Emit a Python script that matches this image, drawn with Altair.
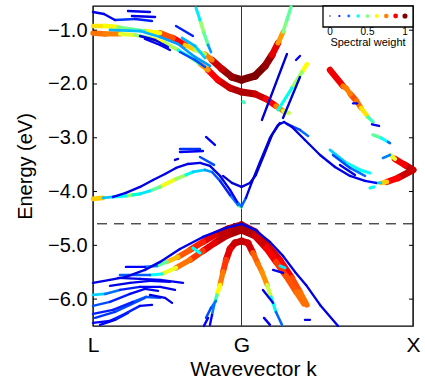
import altair as alt
import pandas as pd

# ---- axes -----------------------------------------------------------------
K_L, K_G, K_X = 0.0, 0.866, 1.866          # path length L -> G -> X (2*pi/a units)
SYM_K = [K_L, K_G, K_X]
SYM_LABELS = ["L", "G", "X"]
E_MIN, E_MAX = -6.5, -0.55
E_TICKS = [-6.0, -5.0, -4.0, -3.0, -2.0, -1.0]
E_REF = -4.6                               # dashed reference energy

# ---- spectral-weight colour key ---------------------------------------------
LEGEND_W = [0.0, 0.125, 0.25, 0.375, 0.5, 0.625, 0.75, 0.875, 1.0]
LEGEND_TICKS = [0.0, 0.5, 1.0]
JET = ["#000080", "#0000ff", "#0080ff", "#00ffff", "#80ff80",
       "#ffff00", "#ff8000", "#ff0000", "#800000"]

# ---- unfolded bands: (k, E [eV], spectral weight) ----------------------------
cb_a = [(0.000, -0.922, 0.60), (0.070, -0.922, 0.70), (0.146, -0.940, 0.55),
        (0.216, -0.977, 0.45), (0.303, -1.015, 0.50), (0.391, -1.052, 0.75),
        (0.466, -1.145, 0.90), (0.536, -1.275, 0.85), (0.595, -1.368, 0.50),
        (0.653, -1.442, 0.60), (0.694, -1.554, 0.90), (0.752, -1.721, 0.95),
        (0.810, -1.870, 1.00), (0.866, -1.925, 1.00), (0.945, -1.851, 1.00),
        (1.003, -1.665, 1.00), (1.044, -1.461, 0.95), (1.079, -1.238, 0.85),
        (1.108, -1.033, 0.60), (1.131, -0.810, 0.40), (1.155, -0.569, 0.55)]
cb_b = [(0.000, -1.052, 0.75), (0.070, -1.070, 0.80), (0.157, -1.070, 0.70),
        (0.245, -1.089, 0.50), (0.332, -1.145, 0.55), (0.420, -1.238, 0.70),
        (0.496, -1.368, 0.40), (0.566, -1.498, 0.35), (0.624, -1.628, 0.60),
        (0.671, -1.740, 0.85), (0.729, -1.925, 0.90), (0.799, -2.074, 0.95),
        (0.866, -2.149, 0.95), (0.945, -2.186, 0.95), (1.009, -2.279, 0.90),
        (1.067, -2.409, 0.85), (1.108, -2.502, 0.65), (1.143, -2.539, 0.50)]
cb_steep = [(0.601, -0.587, 0.25), (0.624, -0.810, 0.45), (0.647, -1.052, 0.60),
            (0.671, -1.275, 0.35), (0.688, -1.405, 0.20)]
ul_1 = [(0.000, -0.662, 0.10), (0.064, -0.699, 0.10), (0.128, -0.810, 0.12)]
ul_2 = [(0.128, -0.810, 0.15), (0.245, -0.792, 0.15), (0.344, -0.829, 0.12)]
ul_3 = [(0.204, -0.643, 0.10), (0.332, -0.662, 0.10)]
ul_4 = [(0.227, -0.736, 0.10), (0.362, -0.754, 0.10)]
ul_5 = [(0.099, -0.996, 0.30), (0.274, -1.015, 0.30), (0.391, -1.126, 0.30),
        (0.496, -1.256, 0.25), (0.595, -1.498, 0.30), (0.682, -1.665, 0.25)]
ul_6 = [(0.274, -1.108, 0.10), (0.362, -1.182, 0.10), (0.437, -1.312, 0.10)]
ul_7 = [(0.303, -1.163, 0.12), (0.391, -1.275, 0.10), (0.449, -1.368, 0.10)]
ul_8 = [(0.484, -0.922, 0.12), (0.583, -1.108, 0.15)]
ul_9 = [(0.507, -1.405, 0.15), (0.595, -1.554, 0.20), (0.653, -1.684, 0.15)]
ul_10 = [(0.519, -1.145, 0.30), (0.595, -1.293, 0.30), (0.653, -1.517, 0.35)]
g_dot = [(0.875, -2.330, 0.45), (0.882, -2.345, 0.45)]
ru_1 = [(0.985, -2.669, 0.08), (1.131, -1.442, 0.08)]
ru_2 = [(1.108, -2.632, 0.08), (1.207, -1.870, 0.08)]
ru_3 = [(1.079, -2.483, 0.35), (1.160, -2.074, 0.45), (1.219, -1.777, 0.60),
        (1.248, -1.628, 0.65)]
ru_4 = [(1.184, -1.554, 0.12), (1.207, -1.479, 0.12)]
rd_1 = [(1.382, -1.740, 0.90), (1.458, -2.037, 0.88), (1.475, -2.074, 0.65),
        (1.501, -2.186, 0.85), (1.536, -2.316, 0.80), (1.563, -2.446, 0.75),
        (1.603, -2.613, 0.55), (1.633, -2.706, 0.35)]
rd_2 = [(1.627, -2.750, 0.12), (1.668, -2.780, 0.12)]
rd_3 = [(1.633, -2.948, 0.50), (1.680, -3.004, 0.45), (1.720, -3.078, 0.30),
        (1.732, -3.100, 0.15)]
rd_4 = [(1.517, -2.360, 0.12), (1.540, -2.360, 0.12)]
rd_5 = [(1.691, -3.375, 0.15), (1.732, -3.320, 0.35), (1.761, -3.394, 0.85),
        (1.819, -3.505, 0.92), (1.866, -3.598, 0.95)]
m_1 = [(0.000, -4.137, 0.85), (0.058, -4.119, 0.50), (0.117, -4.100, 0.12),
       (0.192, -4.026, 0.10), (0.274, -3.914, 0.10), (0.350, -3.784, 0.10),
       (0.420, -3.673, 0.10), (0.484, -3.561, 0.10), (0.554, -3.487, 0.10),
       (0.624, -3.468, 0.10), (0.682, -3.524, 0.10), (0.741, -3.710, 0.10),
       (0.799, -3.970, 0.10), (0.840, -4.193, 0.15), (0.866, -4.277, 0.30),
       (0.892, -4.119, 0.10), (0.927, -3.821, 0.10), (0.974, -3.450, 0.10),
       (1.032, -3.004, 0.10), (1.079, -2.762, 0.10), (1.114, -2.706, 0.10),
       (1.160, -2.799, 0.10), (1.236, -3.041, 0.10), (1.324, -3.320, 0.10),
       (1.411, -3.543, 0.10), (1.499, -3.710, 0.10), (1.586, -3.803, 0.10),
       (1.650, -3.840, 0.15), (1.679, -3.840, 0.50), (1.714, -3.821, 0.85),
       (1.778, -3.747, 0.90), (1.866, -3.598, 0.95)]
m_2 = [(0.117, -4.100, 0.20), (0.192, -4.082, 0.55), (0.233, -4.063, 0.50),
       (0.274, -4.045, 0.35), (0.332, -3.989, 0.35), (0.391, -3.914, 0.60),
       (0.484, -3.766, 0.62), (0.542, -3.691, 0.45), (0.583, -3.636, 0.35),
       (0.653, -3.598, 0.30), (0.694, -3.636, 0.25), (0.741, -3.803, 0.12),
       (0.799, -4.063, 0.15), (0.845, -4.249, 0.35), (0.866, -4.286, 0.60)]
m_3 = [(0.758, -3.710, 0.08), (0.810, -3.840, 0.08), (0.866, -3.914, 0.10),
       (0.915, -3.840, 0.08), (0.950, -3.691, 0.08), (0.997, -3.320, 0.08),
       (1.044, -2.948, 0.08), (1.090, -2.725, 0.08)]
fr_1 = [(0.507, -3.208, 0.15), (0.624, -3.208, 0.15)]
fr_2 = [(0.507, -3.264, 0.12), (0.641, -3.245, 0.12)]
fr_3 = [(0.659, -2.985, 0.12), (0.711, -3.134, 0.12)]
fr_4 = [(0.624, -3.357, 0.15), (0.706, -3.505, 0.20)]
fr_5 = [(0.478, -3.412, 0.10), (0.496, -3.394, 0.10)]
fr_6 = [(1.131, -2.743, 0.15), (1.207, -2.855, 0.20), (1.254, -2.966, 0.25)]
fr_7 = [(1.382, -3.227, 0.30), (1.469, -3.450, 0.35), (1.557, -3.598, 0.40),
        (1.615, -3.654, 0.35)]
fr_8 = [(1.399, -3.320, 0.15), (1.499, -3.561, 0.20), (1.586, -3.710, 0.25)]
fr_9 = [(1.440, -3.505, 0.10), (1.528, -3.691, 0.10)]
fr_10 = [(1.615, -3.933, 0.15), (1.638, -3.914, 0.65)]
v_1 = [(0.000, -5.699, 0.10), (0.099, -5.643, 0.10), (0.192, -5.587, 0.10),
       (0.303, -5.457, 0.10), (0.391, -5.308, 0.10), (0.507, -5.067, 0.10),
       (0.641, -4.844, 0.10), (0.776, -4.677, 0.10), (0.866, -4.600, 0.12),
       (0.945, -4.713, 0.10), (1.032, -4.937, 0.10), (1.108, -5.197, 0.10),
       (1.178, -5.494, 0.10), (1.242, -5.736, 0.10), (1.324, -6.108, 0.10),
       (1.429, -6.498, 0.10)]
v_2 = [(0.192, -5.401, 0.10), (0.303, -5.401, 0.15), (0.373, -5.383, 0.35),
       (0.431, -5.308, 0.60), (0.496, -5.215, 0.78), (0.566, -5.085, 0.85),
       (0.641, -4.937, 0.88), (0.711, -4.807, 0.92), (0.787, -4.695, 0.95),
       (0.866, -4.621, 0.96), (0.945, -4.751, 0.95), (1.020, -5.011, 0.92),
       (1.090, -5.271, 0.90), (1.160, -5.606, 0.86), (1.207, -5.866, 0.80),
       (1.248, -6.108, 0.75)]
v_3 = [(0.157, -5.550, 0.15), (0.332, -5.550, 0.25), (0.402, -5.531, 0.50),
       (0.484, -5.420, 0.72), (0.566, -5.271, 0.82), (0.641, -5.104, 0.88),
       (0.711, -4.955, 0.92), (0.787, -4.807, 0.95), (0.866, -4.714, 0.96),
       (0.945, -4.825, 0.94), (1.009, -5.048, 0.90), (1.067, -5.308, 0.86),
       (1.125, -5.568, 0.84), (1.184, -5.866, 0.80), (1.230, -6.089, 0.76)]
v_4 = [(0.682, -6.479, 0.10), (0.694, -6.294, 0.15), (0.706, -6.108, 0.35),
       (0.723, -5.922, 0.55), (0.741, -5.736, 0.70), (0.758, -5.494, 0.82),
       (0.776, -5.271, 0.88), (0.799, -5.067, 0.92), (0.828, -4.955, 0.93),
       (0.866, -4.918, 0.93), (0.904, -4.955, 0.93), (0.933, -5.141, 0.90),
       (0.962, -5.346, 0.70), (0.985, -5.494, 0.82), (1.015, -5.736, 0.65),
       (1.038, -5.959, 0.50), (1.067, -6.238, 0.30), (1.102, -6.479, 0.12)]
bl_0 = [(0.000, -5.922, 0.35), (0.070, -5.903, 0.30), (0.157, -5.829, 0.15),
        (0.274, -5.773, 0.12), (0.391, -5.773, 0.12), (0.478, -5.829, 0.10)]
bl_1 = [(0.000, -6.126, 0.20), (0.099, -6.052, 0.15), (0.216, -5.903, 0.12),
        (0.303, -5.810, 0.12), (0.379, -5.847, 0.10)]
bl_2 = [(0.000, -6.275, 0.15), (0.117, -6.201, 0.12), (0.233, -6.052, 0.15),
        (0.309, -5.959, 0.25), (0.391, -5.977, 0.12)]
bl_3 = [(0.000, -6.442, 0.12), (0.099, -6.405, 0.12), (0.175, -6.294, 0.15),
        (0.274, -6.126, 0.12), (0.344, -6.108, 0.10)]
bl_4 = [(0.146, -5.606, 0.10), (0.274, -5.624, 0.10), (0.391, -5.643, 0.12),
        (0.525, -5.699, 0.10)]
bl_5 = [(0.099, -5.754, 0.10), (0.216, -5.699, 0.10), (0.332, -5.661, 0.12),
        (0.449, -5.680, 0.10)]
bl_6 = [(0.012, -6.349, 0.15), (0.128, -6.238, 0.15), (0.216, -6.108, 0.20),
        (0.303, -5.977, 0.15)]
bl_7 = [(0.041, -6.479, 0.12), (0.128, -6.386, 0.12), (0.204, -6.256, 0.15)]
bl_8 = [(0.332, -5.922, 0.10), (0.420, -5.977, 0.10), (0.461, -6.070, 0.10)]
bl_9 = [(0.583, -5.048, 0.40), (0.624, -5.141, 0.35)]
bb_1 = [(0.659, -6.349, 0.15), (0.688, -6.163, 0.20), (0.717, -6.033, 0.25)]
bb_2 = [(0.647, -6.498, 0.12), (0.671, -6.349, 0.12)]
rv_1 = [(1.050, -5.457, 0.10), (1.108, -5.513, 0.12)]
rv_2 = [(0.991, -5.829, 0.10), (1.050, -6.070, 0.12)]
rv_3 = [(1.236, -6.386, 0.10), (1.265, -6.386, 0.10)]
rv_4 = [(1.090, -5.383, 0.35), (1.120, -5.420, 0.35)]
rv_5 = [(0.997, -6.349, 0.10), (1.032, -6.479, 0.12)]

BANDS = [cb_a, cb_b, cb_steep, ul_1, ul_2, ul_3, ul_4, ul_5, ul_6, ul_7, ul_8,
         ul_9, ul_10, g_dot, ru_1, ru_2, ru_3, ru_4, rd_1, rd_2, rd_3, rd_4,
         rd_5, m_1, m_2, m_3, fr_1, fr_2, fr_3, fr_4, fr_5, fr_6, fr_7, fr_8,
         fr_9, fr_10, v_1, v_2, v_3, v_4, bl_0, bl_1, bl_2, bl_3, bl_4, bl_5,
         bl_6, bl_7, bl_8, bl_9, bb_1, bb_2, rv_1, rv_2, rv_3, rv_4, rv_5]

# one straight piece per pair of neighbouring vertices, weighted by their mean
rows = []
for i, pts in enumerate(BANDS):
    for (k1, e1, w1), (k2, e2, w2) in zip(pts[:-1], pts[1:]):
        rows.append({"band": i, "k": k1, "e": e1, "k2": k2, "e2": e2,
                     "w": round((w1 + w2) / 2, 3)})
# heavy pieces first so the faint lines stay visible on top
segments = pd.DataFrame(rows).sort_values("w", ascending=False, kind="stable")

FONT = "Liberation Sans"
x_scale = alt.Scale(domain=[K_L, K_X], nice=False, zero=False)
y_scale = alt.Scale(domain=[E_MIN, E_MAX], nice=False, zero=False)
c_scale = alt.Scale(type="linear", domain=LEGEND_W, range=JET, clamp=True)

label_expr = ("datum.value < 0.4 ? '%s' : (datum.value < 1.4 ? '%s' : '%s')"
              % tuple(SYM_LABELS))

sym_lines = alt.Chart(pd.DataFrame({"k": SYM_K})).mark_rule(
    color="#333333", strokeWidth=1
).encode(
    x=alt.X("k:Q", scale=x_scale,
            axis=alt.Axis(values=SYM_K, labelExpr=label_expr, title="Wavevector k",
                          labelFontSize=21, labelPadding=8, labelFlush=False,
                          labelOverlap=False, ticks=False, domain=False, grid=False,
                          titleFontSize=21, titleFontWeight="normal", titlePadding=3,
                          labelFont=FONT, titleFont=FONT, labelColor="#000",
                          titleColor="#000")),
)

ref_line = alt.Chart(pd.DataFrame({"e": [E_REF]})).mark_rule(
    color="black", strokeWidth=1, strokeDash=[10, 7]
).encode(
    y=alt.Y("e:Q", scale=y_scale,
            axis=alt.Axis(values=E_TICKS, format=".1f", title="Energy (eV)",
                          labelFontSize=20, labelPadding=6, ticks=False,
                          domain=False, grid=False, titleFontSize=20,
                          titleFontWeight="normal", titlePadding=12,
                          labelFont=FONT, titleFont=FONT, labelColor="#000",
                          titleColor="#000")),
)

band_marks = alt.Chart(segments).mark_rule(strokeCap="round").encode(
    x=alt.X("k:Q", scale=x_scale),
    x2="k2:Q",
    y=alt.Y("e:Q", scale=y_scale),
    y2="e2:Q",
    color=alt.Color("w:Q", scale=c_scale, legend=None),
    size=alt.Size("w:Q", scale=alt.Scale(type="pow", exponent=2, domain=[0, 1],
                                         range=[2.3, 7.5]),
                  legend=None),
)

tick_df = pd.DataFrame({"e": E_TICKS})
ticks_left = alt.Chart(tick_df).mark_rule(color="black", strokeWidth=1).encode(
    y=alt.Y("e:Q", scale=y_scale), x=alt.value(0), x2=alt.value(4))
ticks_right = alt.Chart(tick_df).mark_rule(color="black", strokeWidth=1).encode(
    y=alt.Y("e:Q", scale=y_scale), x=alt.value(316), x2=alt.value(320))

main = alt.layer(sym_lines, ref_line, band_marks, ticks_left, ticks_right)

# ---- colour key in the top-right corner --------------------------------------
key_x = alt.Scale(domain=[0, 1], range=[237, 312])
key_box = alt.Chart(pd.DataFrame({"w": [0]})).mark_rect(
    fill="white", stroke="black", strokeWidth=1.3
).encode(x=alt.value(230), x2=alt.value(320), y=alt.value(0), y2=alt.value(21))
key_dots = alt.Chart(pd.DataFrame({"lw": LEGEND_W, "w": LEGEND_W})).mark_circle(
    opacity=1
).encode(
    x=alt.X("lw:Q", scale=key_x, axis=None),
    y=alt.value(10),
    color=alt.Color("w:Q", scale=c_scale, legend=None),
    size=alt.Size("lw:Q", scale=alt.Scale(domain=[0, 1], range=[2, 26]),
                  legend=None),
)
key_labels = alt.Chart(pd.DataFrame({"lw": LEGEND_TICKS})).mark_text(
    fontSize=10, font=FONT, color="#000", baseline="middle"
).encode(
    x=alt.X("lw:Q", scale=key_x, axis=None),
    y=alt.value(26),
    text=alt.Text("lw:Q", format="~g"),
)
key_title = alt.Chart(pd.DataFrame({"t": ["Spectral weight"]})).mark_text(
    fontSize=11, font=FONT, color="#000", baseline="middle"
).encode(x=alt.value(275), y=alt.value(37), text="t:N")

key = alt.layer(key_box, key_dots, key_labels, key_title)

chart = alt.layer(main, key).resolve_scale(
    x="independent", size="independent"
).properties(
    width=320, height=320,
    autosize=alt.AutoSizeParams(type="none"),
    padding={"left": 93, "top": 6, "right": 12, "bottom": 59},
).configure_view(stroke="black", strokeWidth=1.3)

chart.save("out.html", embed_options={"renderer": "svg", "actions": False})
